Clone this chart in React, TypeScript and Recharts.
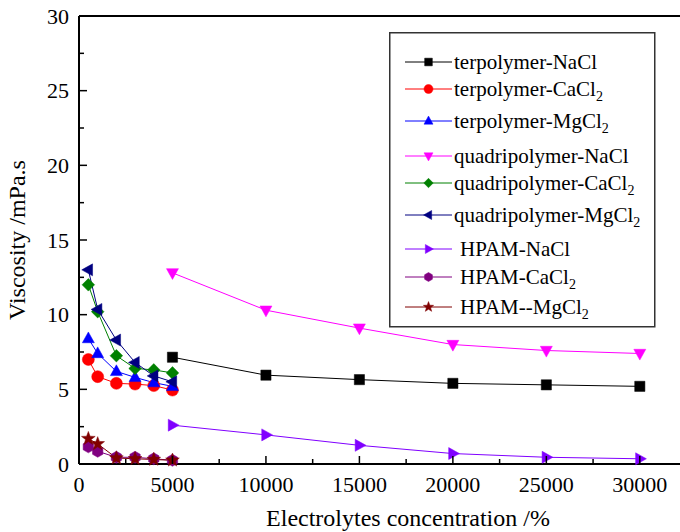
import React from 'react';
import { LineChart, Line, XAxis, YAxis, ReferenceLine } from 'recharts';

const xLow = [500, 1000, 2000, 3000, 4000, 5000];
const xHigh = [5000, 10000, 15000, 20000, 25000, 30000];

const terNaCl = [7.15, 5.95, 5.65, 5.4, 5.3, 5.2];
const terCaCl2 = [7.0, 5.85, 5.4, 5.35, 5.25, 4.95];
const terMgCl2 = [8.4, 7.4, 6.2, 5.8, 5.45, 5.2];
const quadNaCl = [12.8, 10.3, 9.1, 8.0, 7.6, 7.4];
const quadCaCl2 = [12.0, 10.2, 7.25, 6.4, 6.3, 6.1];
const quadMgCl2 = [13.0, 10.35, 8.3, 6.8, 5.9, 5.5];
const hpamNaCl = [2.6, 1.95, 1.25, 0.7, 0.45, 0.35];
const hpamCaCl2 = [1.15, 0.85, 0.45, 0.45, 0.35, 0.25];
const hpamMgCl2 = [1.7, 1.35, 0.4, 0.35, 0.3, 0.25];

const xTicks = [0, 2500, 5000, 7500, 10000, 12500, 15000, 17500, 20000, 22500, 25000, 27500, 30000];
const yTicks = [0, 2.5, 5, 7.5, 10, 12.5, 15, 17.5, 20, 22.5, 25, 27.5, 30];

const xTitle = 'Electrolytes concentration /%';
const yTitle = 'Viscosity /mPa.s';

const FONT = 'Liberation Serif';

type Shape = 'square' | 'circle' | 'up' | 'down' | 'diamond' | 'left' | 'right' | 'hex' | 'star';

interface Series { name: string; sub?: boolean; color: string; shape: Shape; xs: number[]; ys: number[]; textDx?: number }

const series: Series[] = [
  { name: 'terpolymer-NaCl', color: '#000000', shape: 'square', xs: xHigh, ys: terNaCl },
  { name: 'terpolymer-CaCl', sub: true, color: '#ff0000', shape: 'circle', xs: xLow, ys: terCaCl2 },
  { name: 'terpolymer-MgCl', sub: true, color: '#0000ff', shape: 'up', xs: xLow, ys: terMgCl2 },
  { name: 'quadripolymer-NaCl', color: '#ff00ff', shape: 'down', xs: xHigh, ys: quadNaCl },
  { name: 'quadripolymer-CaCl', sub: true, color: '#008000', shape: 'diamond', xs: xLow, ys: quadCaCl2 },
  { name: 'quadripolymer-MgCl', sub: true, color: '#000080', shape: 'left', xs: xLow, ys: quadMgCl2 },
  { name: 'HPAM-NaCl', color: '#8000ff', shape: 'right', xs: xHigh, ys: hpamNaCl, textDx: 6 },
  { name: 'HPAM-CaCl', sub: true, color: '#800080', shape: 'hex', xs: xLow, ys: hpamCaCl2, textDx: 6 },
  { name: 'HPAM--MgCl', sub: true, color: '#800000', shape: 'star', xs: xLow, ys: hpamMgCl2, textDx: 6 },
];

function markerPath(shape: Shape, cx: number, cy: number, r: number): string {
  const pts = (arr: [number, number][]) => 'M' + arr.map(p => `${p[0].toFixed(2)},${p[1].toFixed(2)}`).join('L') + 'Z';
  switch (shape) {
    case 'square': return pts([[cx - r * 0.85, cy - r * 0.85], [cx + r * 0.85, cy - r * 0.85], [cx + r * 0.85, cy + r * 0.85], [cx - r * 0.85, cy + r * 0.85]]);
    case 'circle': return `M${cx - r},${cy}a${r},${r} 0 1,0 ${2 * r},0a${r},${r} 0 1,0 ${-2 * r},0Z`;
    case 'up': return pts([[cx, cy - r * 1.1], [cx + r, cy + r * 0.7], [cx - r, cy + r * 0.7]]);
    case 'down': return pts([[cx, cy + r * 1.1], [cx + r, cy - r * 0.7], [cx - r, cy - r * 0.7]]);
    case 'left': return pts([[cx - r * 1.1, cy], [cx + r * 0.7, cy - r], [cx + r * 0.7, cy + r]]);
    case 'right': return pts([[cx + r * 1.1, cy], [cx - r * 0.7, cy - r], [cx - r * 0.7, cy + r]]);
    case 'diamond': return pts([[cx, cy - r * 1.05], [cx + r * 1.05, cy], [cx, cy + r * 1.05], [cx - r * 1.05, cy]]);
    case 'hex': {
      const a: [number, number][] = [];
      for (let i = 0; i < 6; i++) { const t = Math.PI / 6 + (i * Math.PI) / 3; a.push([cx + r * Math.cos(t), cy + r * Math.sin(t)]); }
      return pts(a);
    }
    case 'star': {
      const a: [number, number][] = [];
      for (let i = 0; i < 10; i++) {
        const rr = i % 2 === 0 ? r * 1.2 : r * 0.5;
        const t = -Math.PI / 2 + (i * Math.PI) / 5;
        a.push([cx + rr * Math.cos(t), cy + rr * Math.sin(t)]);
      }
      return pts(a);
    }
  }
  return '';
}

const makeDot = (s: Series) => (props: any) => {
  const { cx, cy, index } = props;
  if (cx == null || cy == null) return <g key={`d-${s.shape}-${index}`} />;
  return <path key={`d-${s.shape}-${index}`} d={markerPath(s.shape, cx, cy, 6)} fill={s.color} stroke={s.color} strokeWidth={0.5} />;
};

const XTick = (p: any) => {
  const { x, y, payload } = p;
  const major = payload.value % 5000 === 0;
  return (
    <g>
      <line x1={x} x2={x} y1={y} y2={y - (major ? 8 : 5)} stroke="#000" strokeWidth={1.5} />
      {major && (
        <text x={x} y={y + 28} textAnchor="middle" fontSize={22} fontFamily={FONT} fill="#000">{payload.value}</text>
      )}
    </g>
  );
};

const YTick = (p: any) => {
  const { x, y, payload } = p;
  const major = payload.value % 5 === 0;
  return (
    <g>
      <line x1={x} x2={x + (major ? 8 : 5)} y1={y} y2={y} stroke="#000" strokeWidth={1.5} />
      {major && (
        <text x={x - 10} y={y + 7.5} textAnchor="end" fontSize={22} fontFamily={FONT} fill="#000">{payload.value}</text>
      )}
    </g>
  );
};

const XLabel = (p: any) => {
  const vb = p.viewBox || { x: 79, y: 464, width: 601, height: 68 };
  return (
    <text x={vb.x + 329} y={vb.y + 62} textAnchor="middle" fontSize={24} fontFamily={FONT} fill="#000">{xTitle}</text>
  );
};

const YLabel = (p: any) => {
  const vb = p.viewBox || { x: 0, y: 16, width: 79, height: 448 };
  const cx = vb.x + 25;
  const cy = vb.y + vb.height / 2;
  return (
    <text x={cx} y={cy} transform={`rotate(-90 ${cx} ${cy})`} textAnchor="middle" fontSize={24} fontFamily={FONT} fill="#000">{yTitle}</text>
  );
};

const rowY = [62, 89, 121, 156, 183, 215, 249, 277, 307];

const LegendBox = () => (
  <svg width={268} height={298} style={{ display: 'block' }}>
    <rect x={0.75} y={0.75} width={265} height={294} fill="#fff" stroke="#333" strokeWidth={1.5} />
    {series.map((s, i) => {
      const cy = rowY[i] - 32;
      return (
        <g key={s.name}>
          <line x1={16} x2={63} y1={cy} y2={cy} stroke={s.color} strokeWidth={1} />
          <path d={markerPath(s.shape, 39.5, cy, 4.5)} fill={s.color} stroke={s.color} strokeWidth={0.5} />
          <text x={65 + (s.textDx || 0)} y={cy + 7} fontSize={21} fontFamily={FONT} fill="#000">
            {s.name}
            {s.sub && <tspan fontSize={14} dy={5}>2</tspan>}
          </text>
        </g>
      );
    })}
  </svg>
);

export default function App() {
  return (
    <div style={{ position: 'absolute', left: 0, top: 0, width: 680, height: 532, background: '#fff', fontFamily: FONT }}>
      <LineChart width={680} height={532} margin={{ top: 16, right: 0, left: 0, bottom: 0 }}>
        <XAxis
          type="number"
          dataKey="x"
          domain={[0, 32150]}
          ticks={xTicks}
          interval={0}
          height={68}
          tickSize={0}
          tickMargin={0}
          tick={<XTick />}
          axisLine={{ stroke: '#000', strokeWidth: 2 }}
          tickLine={false}
          allowDuplicatedCategory={false}
          label={<XLabel />}
        />
        <YAxis
          type="number"
          dataKey="y"
          domain={[0, 30]}
          ticks={yTicks}
          interval={0}
          width={79}
          tickSize={0}
          tickMargin={0}
          tick={<YTick />}
          axisLine={{ stroke: '#000', strokeWidth: 2 }}
          tickLine={false}
          label={<YLabel />}
        />
        <ReferenceLine y={30} stroke="#000" strokeWidth={2} ifOverflow="extendDomain" />
        {series.map(s => (
          <Line
            key={s.name}
            data={s.xs.map((x, i) => ({ x, y: s.ys[i] }))}
            dataKey="y"
            name={s.name}
            type="linear"
            stroke={s.color}
            strokeWidth={1}
            dot={makeDot(s)}
            activeDot={false}
            isAnimationActive={false}
          />
        ))}
      </LineChart>
      <div style={{ position: 'absolute', left: 389, top: 32 }}>
        <LegendBox />
      </div>
    </div>
  );
}
